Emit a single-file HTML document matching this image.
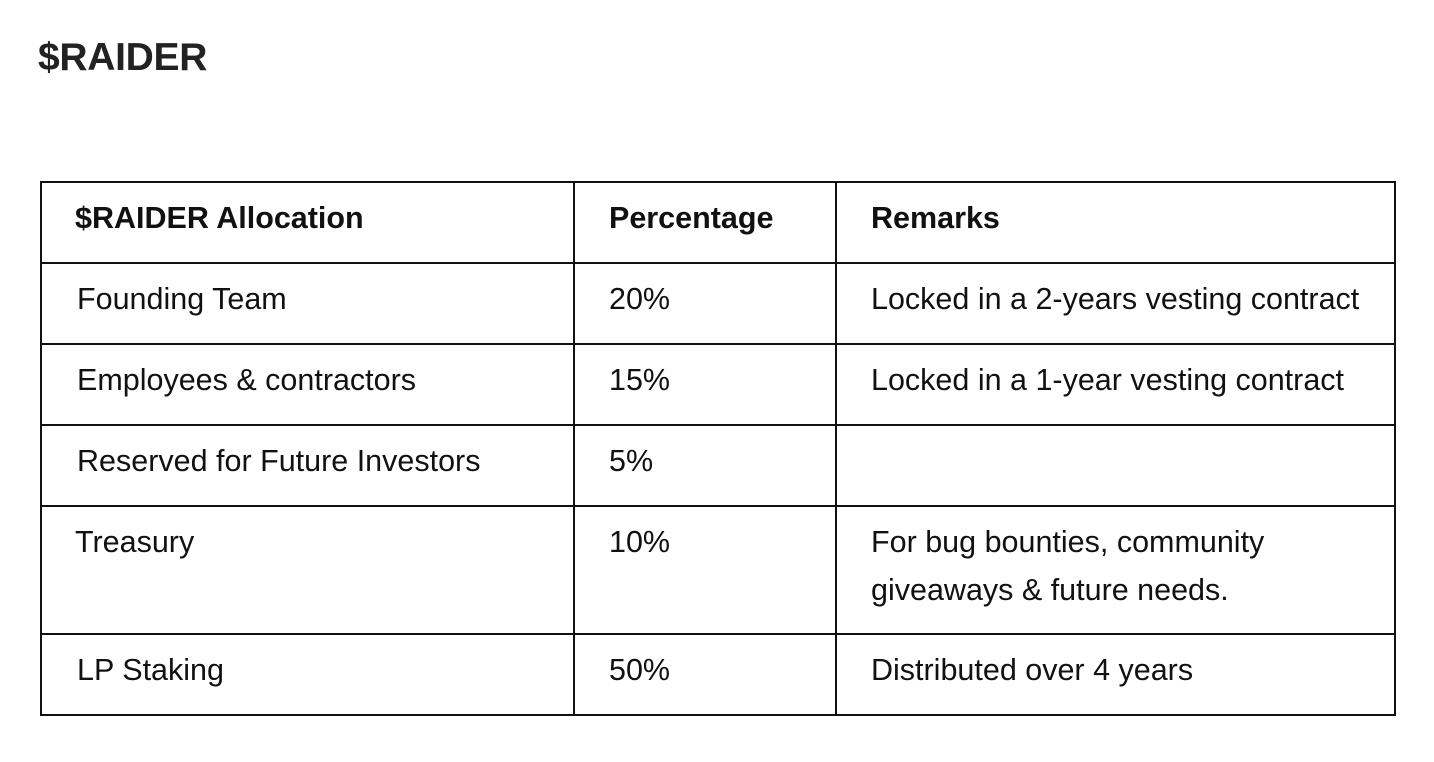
<!DOCTYPE html>
<html><head><meta charset="utf-8"><style>
body{margin:0;width:1434px;height:762px;background:#fff;position:relative;overflow:hidden;font-family:"Liberation Sans",Arial,sans-serif;color:#111}
.t{position:absolute;font-size:30.5px;line-height:30px;white-space:nowrap}
.b{font-weight:bold}
.h{position:absolute;background:#111;height:2px;left:40px;width:1356px}
.v{position:absolute;background:#111;width:2px;top:182px;height:534px}
</style></head><body>
<div class="t b" style="left:38px;top:38px;font-size:39px;line-height:39px;letter-spacing:-0.3px;color:#222">$RAIDER</div>
<div class="h" style="top:181px"></div>
<div class="h" style="top:262px"></div>
<div class="h" style="top:343px"></div>
<div class="h" style="top:424px"></div>
<div class="h" style="top:505px"></div>
<div class="h" style="top:633px"></div>
<div class="h" style="top:714px"></div>
<div class="v" style="left:40px"></div>
<div class="v" style="left:573px"></div>
<div class="v" style="left:835px"></div>
<div class="v" style="left:1394px"></div>
<div class="t b" style="left:75px;top:203px">$RAIDER Allocation</div>
<div class="t b" style="left:609px;top:203px">Percentage</div>
<div class="t b" style="left:871px;top:203px">Remarks</div>
<div class="t" style="left:77px;top:284px">Founding Team</div>
<div class="t" style="left:609px;top:284px">20%</div>
<div class="t" style="left:871px;top:284px">Locked in a 2-years vesting contract</div>
<div class="t" style="left:77px;top:365px">Employees &amp; contractors</div>
<div class="t" style="left:609px;top:365px">15%</div>
<div class="t" style="left:871px;top:365px">Locked in a 1-year vesting contract</div>
<div class="t" style="left:77px;top:446px">Reserved for Future Investors</div>
<div class="t" style="left:609px;top:446px">5%</div>
<div class="t" style="left:75px;top:527px">Treasury</div>
<div class="t" style="left:609px;top:527px">10%</div>
<div class="t" style="left:871px;top:527px">For bug bounties, community</div>
<div class="t" style="left:871px;top:575px">giveaways &amp; future needs.</div>
<div class="t" style="left:77px;top:655px">LP Staking</div>
<div class="t" style="left:609px;top:655px">50%</div>
<div class="t" style="left:871px;top:655px">Distributed over 4 years</div>
</body></html>
